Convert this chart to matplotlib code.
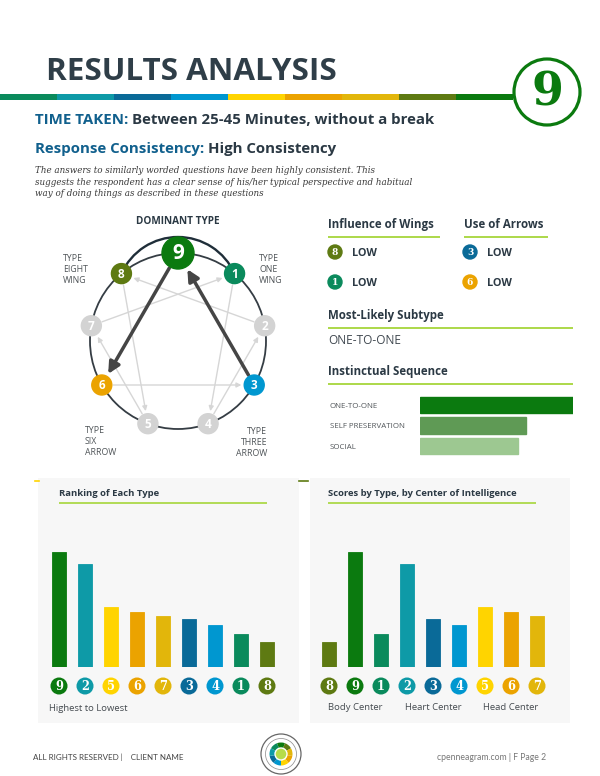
import numpy as np
import matplotlib.pyplot as plt
from matplotlib.patches import Circle, Arc, FancyArrowPatch, Rectangle, Wedge

W, H = 600, 776

# type palette (index = type number)
type_colors = {
    1: "#0a8a5c", 2: "#0e9aa7", 3: "#0a6a98", 4: "#0097d0", 5: "#ffd400",
    6: "#eba300", 7: "#e2b60b", 8: "#5e7a12", 9: "#0b7a0f",
}

# data
ranking_types = [9, 2, 5, 6, 7, 3, 4, 1, 8]
ranking_scores = [115, 103, 60, 55, 51, 48, 42, 33, 25]
center_types = [8, 9, 1, 2, 3, 4, 5, 6, 7]
center_scores = [25, 115, 33, 103, 48, 42, 60, 55, 51]
center_names = ["Body Center", "Heart Center", "Head Center"]
instinct_labels = ["ONE-TO-ONE", "SELF PRESERVATION", "SOCIAL"]
instinct_scores = [100, 69, 64]
instinct_colors = ["#0b7a0f", "#5f9a55", "#9dc891"]
wings = [(8, "LOW"), (1, "LOW")]
arrows_use = [(3, "LOW"), (6, "LOW")]
dominant = 9
wing_types = [8, 1]
arrow_types = [3, 6]

DARK = "#2b3944"
BLUE = "#11608d"
LIME = "#a6d63a"
SANS = "Open Sans"

fig = plt.figure(figsize=(W / 100, H / 100), dpi=100)
ax = fig.add_axes([0, 0, 1, 1])
ax.set_xlim(0, W)
ax.set_ylim(H, 0)
ax.axis("off")


def px_axes(x0, y0, x1, y1):
    a = fig.add_axes([x0 / W, 1 - y1 / H, (x1 - x0) / W, (y1 - y0) / H])
    a.patch.set_alpha(0)
    return a


# ---- header
ax.text(46, 80, "RESULTS ANALYSIS", fontsize=22.6, fontweight="bold", color="#2f3e48", family=SANS)
for i in range(9):
    ax.add_patch(Rectangle((i * 57, 94), 57, 6, color=type_colors[i + 1], lw=0))
ax.add_patch(Circle((547, 92), 33, facecolor="white", edgecolor=type_colors[9], lw=2.3, zorder=3))
ax.text(547, 93, str(dominant), fontsize=33, fontweight="bold", family="DejaVu Serif",
        color=type_colors[9], ha="center", va="center", zorder=4)

t = ax.text(35, 124, "TIME TAKEN: ", fontsize=10.8, fontweight="bold", color=BLUE, family=SANS)
ax.annotate("Between 25-45 Minutes, without a break", xycoords=t, xy=(1, 0), va="bottom",
            fontsize=10.8, fontweight="bold", color=DARK, family=SANS)
t = ax.text(35, 153, "Response Consistency: ", fontsize=10.8, fontweight="bold", color=BLUE, family=SANS)
ax.annotate("High Consistency", xycoords=t, xy=(1, 0), va="bottom",
            fontsize=10.8, fontweight="bold", color=DARK, family=SANS)
para = ["The answers to similarly worded questions have been highly consistent. This",
        "suggests the respondent has a clear sense of his/her typical perspective and habitual",
        "way of doing things as described in these questions"]
for i, line in enumerate(para):
    ax.text(35, 173 + i * 11.7, line, fontsize=6.35, style="italic", family="DejaVu Serif", color="#3a3a3a")

# ---- enneagram
cx, cy, R = 178, 341, 88
node_r = {k: 10 for k in range(1, 10)}
node_r[dominant] = 16


def pos(k):
    a = np.deg2rad(90 - 40 * k)
    return np.array([cx + R * np.cos(a), cy - R * np.sin(a)])


ax.text(cx, 224, "DOMINANT TYPE", fontsize=7.2, fontweight="bold", color=DARK, family=SANS, ha="center")
ax.add_patch(Circle((cx, cy), R, fill=False, edgecolor="#353d44", lw=1.3, zorder=2))

# wing arc through the two wings and the top of the dominant node
p8, p1 = pos(wing_types[0]), pos(wing_types[1])
top_y = pos(dominant)[1] - node_r[dominant]
dx = p8[0] - cx
wy = (dx ** 2 + p8[1] ** 2 - top_y ** 2) / (2 * (p8[1] - top_y))
wr = wy - top_y
ang = np.degrees(np.arctan2(wy - p8[1], abs(dx)))
ax.add_patch(Arc((cx, wy), 2 * wr, 2 * wr, theta1=180 + ang, theta2=360 - ang,
                 edgecolor="#1f2e39", lw=1.7, zorder=2))

lines = [(1, 4), (4, 2), (2, 8), (8, 5), (5, 7), (7, 1), (9, 6), (6, 3), (3, 9)]
for a_, b_ in lines:
    dark = dominant in (a_, b_)
    arr = FancyArrowPatch(pos(a_), pos(b_), arrowstyle="-|>",
                          mutation_scale=17 if dark else 7,
                          shrinkA=node_r[a_] * 0.72 + 1, shrinkB=node_r[b_] * 0.72 + 2,
                          color="#454545" if dark else "#d6d6d6",
                          lw=2.5 if dark else 1.0, zorder=4 if dark else 3)
    ax.add_patch(arr)

for k in range(1, 10):
    p = pos(k)
    c = type_colors[k] if k in [dominant] + wing_types + arrow_types else "#d3d3d3"
    if k == 3:
        c = type_colors[4]
    ax.add_patch(Circle(p, node_r[k], color=c, zorder=5))
    ax.text(p[0], p[1] + 0.5, str(k), fontsize=15 if k == dominant else 8.5, fontweight="bold",
            color="white", ha="center", va="center", family=SANS, zorder=6)

side_labels = [
    (63, 261, "left", ["TYPE", "EIGHT", "WING"]),
    (259, 261, "left", ["TYPE", "ONE", "WING"]),
    (85, 433, "left", ["TYPE", "SIX", "ARROW"]),
    (267, 434, "right", ["TYPE", "THREE", "ARROW"]),
]
for x, y, ha, words in side_labels:
    for i, w in enumerate(words):
        ax.text(x, y + i * 11, w, fontsize=6.3, color="#505559", family=SANS, ha=ha)

# ---- right panel
def heading(x, y, txt, x_end):
    ax.text(x, y, txt, fontsize=8.3, fontweight="bold", color=DARK, family=SANS)
    ax.plot([x, x_end], [y + 9, y + 9], color=LIME, lw=1.3, solid_capstyle="butt")


heading(328, 228, "Influence of Wings", 440)
heading(464, 228, "Use of Arrows", 548)
for col_x, items in [(335, wings), (470, arrows_use)]:
    for i, (k, lvl) in enumerate(items):
        y = 252 + i * 30
        ax.add_patch(Circle((col_x, y), 7, color=type_colors[k]))
        ax.text(col_x, y + 0.5, str(k), fontsize=6.5, fontweight="bold", color="white",
                family="DejaVu Serif", ha="center", va="center")
        ax.text(col_x + 17, y + 3.5, lvl, fontsize=7.8, fontweight="bold", color=DARK, family=SANS)

heading(328, 319, "Most-Likely Subtype", 573)
ax.text(328, 344, "ONE-TO-ONE", fontsize=8.6, color="#404850", family=SANS)
heading(328, 375, "Instinctual Sequence", 573)

axi = px_axes(420, 395, 573, 456)
yi = np.arange(len(instinct_scores))
axi.barh(yi, instinct_scores, height=0.79, color=instinct_colors, edgecolor=instinct_colors)
axi.set_xlim(0, 100)
axi.set_ylim(len(instinct_scores) - 0.5, -0.5)
axi.axis("off")
for i, lab in enumerate(instinct_labels):
    ax.text(330, 408 + i * 20.5, lab, fontsize=5.7, color="#505559", family=SANS)

# ---- bottom panels
ax.add_patch(Rectangle((38, 478), 261, 245, color="#f7f7f7", lw=0, zorder=0))
ax.add_patch(Rectangle((310, 478), 260, 245, color="#f7f7f7", lw=0, zorder=0))
ax.plot([35, 39], [481, 481], color="#ffd400", lw=1.2)
ax.plot([299, 308], [481, 481], color="#5e7a12", lw=1.2)


def panel_title(x, txt, x_end):
    ax.text(x, 496, txt, fontsize=6.8, fontweight="bold", color=DARK, family=SANS)
    ax.plot([x, x_end], [503, 503], color=LIME, lw=1.2, solid_capstyle="butt")


def type_bars(x0, types, scores):
    a = px_axes(x0, 537, x0 + 234, 667)
    xs = np.arange(len(types))
    cols = [type_colors[k] for k in types]
    a.bar(xs, scores, width=0.54, color=cols, edgecolor=cols, lw=0.6)
    a.scatter(xs, [-19] * len(xs), s=150, c=cols, clip_on=False, zorder=3, linewidths=0)
    for x, k in zip(xs, types):
        a.text(x, -19.5, str(k), fontsize=8.3, fontweight="bold", color="white", family="DejaVu Serif",
               ha="center", va="center", clip_on=False, zorder=4)
    a.set_xlim(-0.5, len(types) - 0.5)
    a.set_ylim(0, 130)
    a.axis("off")
    return a


panel_title(59, "Ranking of Each Type", 267)
type_bars(46, ranking_types, ranking_scores)
ax.text(49, 711, "Highest to Lowest", fontsize=6.8, color="#454b50", family=SANS)

panel_title(328, "Scores by Type, by Center of Intelligence", 536)
type_bars(316, center_types, center_scores)
for i, name in enumerate(center_names):
    ax.text(329 + 26 + i * 78, 710, name, fontsize=6.8, color="#454b50", family=SANS, ha="center")

# ---- footer
ax.text(33, 760, "ALL RIGHTS RESERVED |    CLIENT NAME", fontsize=5.8, color="#444444", family="Lato")
ax.text(546, 760, "cpenneagram.com | F Page 2", fontsize=6.2, color="#777777", family="Lato", ha="right")
lx, ly = 281, 754
ax.add_patch(Circle((lx, ly), 20, facecolor="white", edgecolor="#666666", lw=0.9))
ax.add_patch(Circle((lx, ly), 15.5, fill=False, edgecolor="#888888", lw=0.5))
for i in range(9):
    k = [4, 3, 2, 1, 9, 8, 7, 6, 5][i]
    ax.add_patch(Wedge((lx, ly), 11.5, 90 + i * 40, 130 + i * 40, color=type_colors[k], lw=0))
ax.add_patch(Circle((lx, ly), 6, facecolor="#b7dc4a", edgecolor="white", lw=1.0))

fig.savefig("out.png", dpi=100)
